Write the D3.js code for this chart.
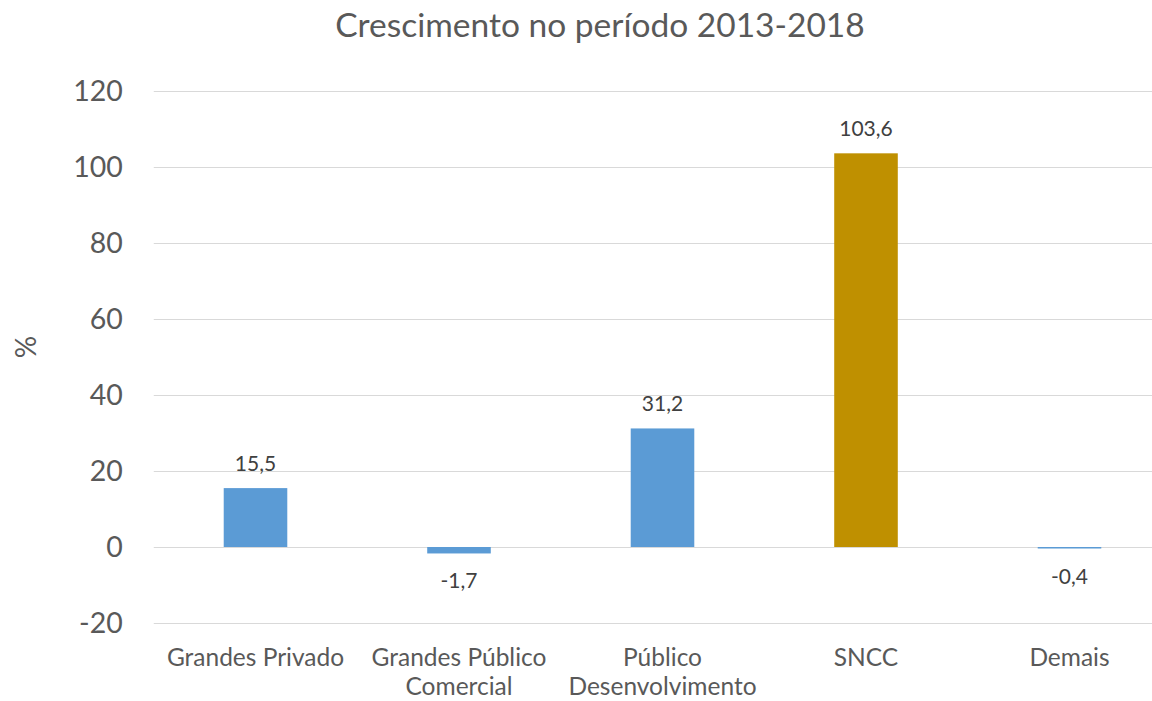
<!DOCTYPE html>
<html>
<head>
<meta charset="utf-8">
<script src="https://cdn.jsdelivr.net/npm/d3@7"></script>
<style>
html,body{margin:0;padding:0;background:#fff;overflow:hidden;}
text{font-family:Lato,"Open Sans",sans-serif;}
</style>
</head>
<body>
<svg id="chart" width="1152" height="701"></svg>
<script>
const title = "Crescimento no período 2013-2018";
const yAxisLabel = "%";
const categories = ["Grandes Privado", "Grandes Público Comercial", "Público Desenvolvimento", "SNCC", "Demais"];
const values = [15.5, -1.7, 31.2, 103.6, -0.4];
const valueLabels = ["15,5", "-1,7", "31,2", "103,6", "-0,4"];
const barColors = ["#5B9BD5", "#5B9BD5", "#5B9BD5", "#BF9000", "#5B9BD5"];
const yTicks = [-20, 0, 20, 40, 60, 80, 100, 120];

const svg = d3.select("#chart");

const x = d3.scaleBand().domain(categories).range([153.75, 1171.25]).paddingInner(0.6876).paddingOuter(0.3438);
const y = d3.scaleLinear().domain([-20, 120]).range([623, 91]);

// gridlines
const yAxis = d3.axisLeft(y).tickValues(yTicks).tickSize(-(1171.25 - 153.75)).tickPadding(31).tickFormat(d => String(d));
const gy = svg.append("g").attr("transform", "translate(153.75,0)").call(yAxis);
gy.select(".domain").remove();
gy.selectAll(".tick line").attr("stroke", "#D9D9D9").attr("stroke-width", 1.2);
gy.selectAll(".tick text").attr("fill", "#595959").style("font-size", "28.5px").attr("dy", "0.35em");

// bars
svg.append("g").selectAll("rect").data(values).join("rect")
  .attr("x", (d, i) => x(categories[i]))
  .attr("width", x.bandwidth())
  .attr("y", d => y(Math.max(0, d)))
  .attr("height", d => Math.abs(y(d) - y(0)))
  .attr("fill", (d, i) => barColors[i]);

// data labels
svg.append("g").selectAll("text").data(values).join("text")
  .attr("x", (d, i) => x(categories[i]) + x.bandwidth() / 2)
  .attr("y", d => d >= 0 ? y(d) - 17 : y(d) + 35)
  .attr("text-anchor", "middle")
  .attr("fill", "#404040")
  .style("font-size", "21px")
  .text((d, i) => valueLabels[i]);

// category labels with wrapping
const catG = svg.append("g");
categories.forEach((c, i) => {
  const cx = x(c) + x.bandwidth() / 2;
  const t = catG.append("text")
    .attr("x", cx)
    .attr("y", 666)
    .attr("text-anchor", "middle")
    .attr("fill", "#595959")
    .style("font-size", "24.5px");
  const words = c.split(" ");
  const maxW = x.step() - 4;
  let line = [];
  let tspan = t.append("tspan").attr("x", cx).attr("dy", 0);
  words.forEach(w => {
    line.push(w);
    tspan.text(line.join(" "));
    if (tspan.node().getComputedTextLength() > maxW && line.length > 1) {
      line.pop();
      tspan.text(line.join(" "));
      line = [w];
      tspan = t.append("tspan").attr("x", cx).attr("dy", 29).text(w);
    }
  });
});

// title
svg.append("text")
  .attr("x", 600).attr("y", 37)
  .attr("text-anchor", "middle")
  .attr("fill", "#595959")
  .style("font-size", "33.5px")
  .text(title);

// y axis label
svg.append("text")
  .attr("transform", "translate(36,347) rotate(-90)")
  .attr("text-anchor", "middle")
  .attr("fill", "#595959")
  .style("font-size", "28px")
  .text(yAxisLabel);
</script>
</body>
</html>
